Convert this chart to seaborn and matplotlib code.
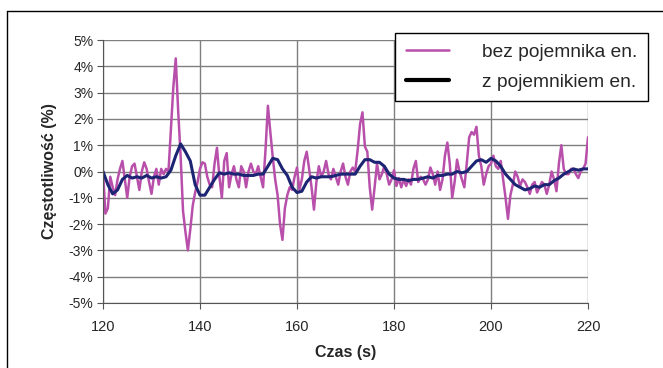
import numpy as np
import matplotlib.pyplot as plt
import seaborn as sns
from matplotlib.lines import Line2D

# time axis (s)
t_bez = np.arange(120, 220.5, 0.5)
t_z = np.arange(120, 221, 1)

# frequency deviation without energy storage (%), every 0.5 s
bez = [
    0.0, -1.6, -1.4, -0.2, -0.6, -0.9, -0.3, 0.1, 0.4, -0.3,
    -1.0, -0.2, 0.2, 0.3, -0.2, -0.7, 0.0, 0.35, 0.1, -0.4,
    -0.85, -0.2, 0.1, -0.5, 0.1, -0.1, 0.1, 0.0, 1.6, 3.2,
    4.3, 2.3, 0.6, -1.5, -2.3, -3.0, -2.2, -1.3, -0.8, -0.4,
    0.1, 0.35, 0.3, -0.2, -0.5, -0.6, 0.3, 0.9, -0.2, -1.0,
    0.4, 0.7, -0.6, -0.1, 0.2, -0.3, -0.6, 0.2, 0.0, -0.6,
    0.0, 0.3, 0.0, -0.1, 0.2, -0.2, -0.6, 0.8, 2.5, 1.5,
    0.55, -0.3, -0.9, -2.0, -2.6, -1.4, -0.9, -0.6, -0.7, -0.2,
    0.15, -0.7, -0.3, 0.4, 0.75, 0.1, -0.6, -1.45, -0.4, 0.2,
    -0.2, 0.0, 0.4, -0.1, -0.3, 0.1, -0.2, -0.5, 0.0, 0.3,
    -0.2, -0.5, 0.0, 0.15, 0.0, 0.8, 1.8, 2.25, 0.95, 0.75,
    -0.6, -1.45, -0.6, 0.3, -0.3, -0.1, 0.2, -0.1, -0.5, -0.3,
    0.05, -0.55, -0.25, -0.6, -0.3, -0.55, -0.3, -0.5, 0.1, 0.4,
    -0.4, -0.2, -0.3, -0.5, -0.3, 0.15, -0.1, -0.5, 0.0, -0.7,
    -0.3, 0.6, 1.1, 0.3, -1.0, -0.4, 0.45, 0.0, -0.3, -0.6,
    0.3, 1.3, 1.5, 1.4, 1.7, 0.6, 0.2, -0.5, -0.1, 0.2,
    0.3, 0.6, 0.2, 0.1, 0.4, -0.3, -1.0, -1.8, -0.9, -0.5,
    0.0, -0.2, -0.55, -0.3, -0.4, -0.6, -0.85, -0.5, -0.4, -0.8,
    -0.6, -0.4, -0.5, -0.85, -0.5, 0.0, -0.3, -0.75, 0.3, 1.0,
    0.1, -0.1, -0.1, 0.1, 0.1, -0.1, -0.25, 0.0, 0.1, 0.3,
    1.3,
]

# frequency deviation with energy storage (%), every 1 s
z = [
    0.0, -0.5, -0.85, -0.7, -0.3, -0.15, -0.25, -0.2, -0.25, -0.15,
    -0.25, -0.2, -0.25, -0.2, 0.05, 0.6, 1.05, 0.75, 0.4, -0.5,
    -0.9, -0.9, -0.6, -0.3, -0.05, -0.1, -0.05, -0.1, -0.1, -0.15,
    -0.15, -0.15, -0.1, -0.1, 0.2, 0.5, 0.45, 0.1, -0.15, -0.6,
    -0.8, -0.75, -0.4, -0.2, -0.25, -0.2, -0.2, -0.2, -0.15, -0.1,
    -0.1, -0.1, -0.1, 0.2, 0.45, 0.45, 0.35, 0.35, 0.2, -0.1,
    -0.25, -0.3, -0.3, -0.35, -0.3, -0.3, -0.25, -0.2, -0.25, -0.15,
    -0.15, -0.1, -0.1, 0.0, -0.05, 0.0, 0.2, 0.4, 0.45, 0.35,
    0.5, 0.4, 0.2, -0.1, -0.3, -0.5, -0.6, -0.7, -0.65, -0.55,
    -0.6, -0.5, -0.5, -0.35, -0.25, -0.1, 0.0, 0.1, 0.05, 0.1,
    0.1,
]

x_ticks = [120, 140, 160, 180, 200, 220]
y_ticks = [-5, -4, -3, -2, -1, 0, 1, 2, 3, 4, 5]
y_labels = [f"{v}%" for v in y_ticks]

sns.set_style("white")
plt.rcParams['font.family'] = ['Liberation Sans', 'DejaVu Sans']

fig = plt.figure(figsize=(6.63, 3.68), dpi=100)
ax = fig.add_axes([103 / 663, 1 - 303 / 368, 485 / 663, 263 / 368])

sns.lineplot(x=t_bez, y=bez, ax=ax, color='#b850ab', lw=1.8,
             label='bez pojemnika en.')
sns.lineplot(x=t_z, y=z, ax=ax, color='#1c2473', lw=2.2,
             label='z pojemnikiem en.')

ax.set_xlim(120, 220)
ax.set_ylim(-5, 5)
ax.set_xticks(x_ticks)
ax.set_yticks(y_ticks)
ax.set_yticklabels(y_labels)
ax.grid(True, color='#7f7f7f', lw=1)
ax.set_axisbelow(True)
for side in ['top', 'right']:
    ax.spines[side].set_visible(False)
for side in ['left', 'bottom']:
    ax.spines[side].set_color('#555555')
ax.tick_params(axis='y', left=True, length=4, color='#555555', labelsize=10, pad=3)
ax.tick_params(axis='x', bottom=True, length=4, color='#555555', labelsize=10.5, pad=8)

ax.set_xlabel('Czas (s)', fontsize=11.5, fontweight='bold', labelpad=8)
ax.set_ylabel('Częstotliwość (%)', fontsize=11.5, fontweight='bold', labelpad=8)

leg = ax.legend(loc='upper left', bbox_to_anchor=(395 / 663, 1 - 33 / 368),
                bbox_transform=fig.transFigure, fontsize=13.8, frameon=True,
                fancybox=False, edgecolor='black', framealpha=1,
                handlelength=2.25, handletextpad=1.75, labelspacing=0.65,
                borderpad=0.55, borderaxespad=0)
leg.get_frame().set_linewidth(1)
leg.get_lines()[1].set_color('black')
leg.get_lines()[1].set_linewidth(3)

# outer frame of the original figure
fig.add_artist(Line2D([7 / 663, 7 / 663], [0, 1 - 11 / 368],
                      transform=fig.transFigure, color='black', lw=1))
fig.add_artist(Line2D([7 / 663, 1], [1 - 11 / 368, 1 - 11 / 368],
                      transform=fig.transFigure, color='black', lw=1))

fig.savefig('out.png', dpi=100)
